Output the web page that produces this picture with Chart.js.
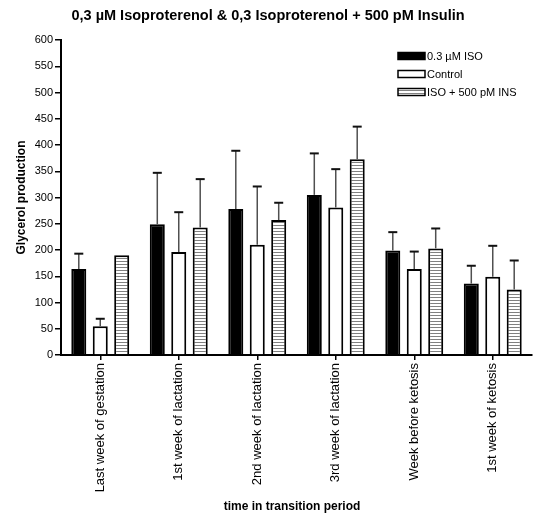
<!DOCTYPE html>
<html>
<head>
<meta charset="utf-8">
<script src="https://cdn.jsdelivr.net/npm/chart.js@4/dist/chart.umd.min.js"></script>
<style>
  html, body { margin: 0; padding: 0; background: #fff; }
  #wrap { width: 545px; height: 520px; position: relative; }
</style>
</head>
<body>
<div id="wrap"><canvas id="c"></canvas></div>
<script>
// Transition periods (x categories)
const categories = [
  'Last week of gestation',
  '1st week of lactation',
  '2nd week of lactation',
  '3rd week of lactation',
  'Week before ketosis',
  '1st week of ketosis'
];

// Mean glycerol production per group
const isoMeans     = [164, 249, 278, 305, 199, 136];
const controlMeans = [55, 196, 210, 281, 164, 149];
const insMeans     = [190, 243, 257, 373, 203, 125];

// Upper error (added to the mean)
const isoErr     = [29, 98, 111, 79, 35, 34];
const controlErr = [14, 76, 111, 73, 33, 59];
const insErr     = [0, 92, 33, 62, 38, 55];

const seriesNames = ['0.3 \u00b5M ISO', 'Control', 'ISO + 500 pM INS'];
const yTicks = { min: 0, max: 600, step: 50 };

const FONT = '"Liberation Sans", Arial, sans-serif';

// Horizontal stripe fill
function stripePattern() {
  const p = document.createElement('canvas');
  p.width = 4; p.height = 3;
  const g = p.getContext('2d');
  g.fillStyle = '#fff';
  g.fillRect(0, 0, 4, 3);
  g.fillStyle = '#808080';
  g.fillRect(0, 0, 4, 1);
  return document.getElementById('c').getContext('2d').createPattern(p, 'repeat');
}
const stripes = stripePattern();

const errorBars = {
  id: 'errorBars',
  afterDatasetsDraw(chart) {
    const ctx = chart.ctx;
    const ys = chart.scales.y;
    chart.data.datasets.forEach((ds, i) => {
      const meta = chart.getDatasetMeta(i);
      meta.data.forEach((bar, j) => {
        const e = ds.errors[j];
        if (!e) return;
        const yTop = ys.getPixelForValue(ds.data[j] + e);
        ctx.save();
        ctx.strokeStyle = '#505050';
        ctx.lineWidth = 1.5;
        ctx.beginPath();
        ctx.moveTo(bar.x, bar.y);
        ctx.lineTo(bar.x, yTop);
        ctx.stroke();
        ctx.strokeStyle = '#111';
        ctx.lineWidth = 2;
        ctx.beginPath();
        ctx.moveTo(bar.x - 4.5, yTop);
        ctx.lineTo(bar.x + 4.5, yTop);
        ctx.stroke();
        ctx.restore();
      });
    });
  }
};

const textLayer = {
  id: 'textLayer',
  afterDraw(chart) {
    const ctx = chart.ctx;
    const a = chart.chartArea;
    ctx.save();
    ctx.fillStyle = '#000';
    // title
    ctx.font = 'bold 14.5px ' + FONT;
    ctx.textAlign = 'center';
    ctx.textBaseline = 'middle';
    ctx.fillText('0,3 \u00b5M Isoproterenol & 0,3 Isoproterenol + 500 pM Insulin', 268, 16);
    // x axis title
    ctx.font = 'bold 12px ' + FONT;
    ctx.fillText('time in transition period', 292, 507);
    // y axis title
    ctx.save();
    ctx.translate(22, (a.top + a.bottom) / 2);
    ctx.rotate(-Math.PI / 2);
    ctx.fillText('Glycerol production', 0, 0);
    ctx.restore();
    // legend
    const rows = [56, 74, 92];
    ctx.font = '11px ' + FONT;
    ctx.textAlign = 'left';
    chart.data.datasets.forEach((ds, i) => {
      const y = rows[i];
      ctx.fillStyle = ds.backgroundColor;
      ctx.fillRect(398, y - 3.5, 27, 7);
      ctx.strokeStyle = '#000';
      ctx.lineWidth = 1.5;
      ctx.strokeRect(398, y - 3.5, 27, 7);
      ctx.fillStyle = '#000';
      ctx.fillText(ds.label, 427, y + 0.5);
    });
    ctx.restore();
  }
};

const mkDs = (label, data, errors, fill) => ({
  label, data, errors,
  backgroundColor: fill,
  borderColor: '#000',
  borderWidth: 2,
  borderSkipped: 'bottom',
  categoryPercentage: 0.82,
  barPercentage: 0.7
});

new Chart(document.getElementById('c'), {
  type: 'bar',
  data: {
    labels: categories,
    datasets: [
      mkDs(seriesNames[0], isoMeans, isoErr, '#000'),
      mkDs(seriesNames[1], controlMeans, controlErr, '#fff'),
      mkDs(seriesNames[2], insMeans, insErr, stripes)
    ]
  },
  options: {
    responsive: true,
    maintainAspectRatio: false,
    animation: false,
    layout: { padding: { top: 40, right: 13, left: 0, bottom: 0 } },
    plugins: { legend: { display: false }, tooltip: { enabled: false }, title: { display: false } },
    scales: {
      x: {
        afterFit(s) { s.height = 165; },
        grid: { drawOnChartArea: false, offset: false, color: '#000', tickLength: 5, lineWidth: 1.5 },
        border: { color: '#000', width: 2 },
        ticks: { minRotation: 90, maxRotation: 90, autoSkip: false, color: '#000', font: { family: FONT, size: 13 }, padding: 3 }
      },
      y: {
        min: yTicks.min, max: yTicks.max,
        afterFit(s) { s.width = 61; },
        grid: { drawOnChartArea: false, color: '#000', tickLength: 6, lineWidth: 1.5 },
        border: { color: '#000', width: 2 },
        ticks: { stepSize: yTicks.step, color: '#000', font: { family: FONT, size: 11 }, padding: 2 }
      }
    }
  },
  plugins: [errorBars, textLayer]
});
</script>
</body>
</html>
